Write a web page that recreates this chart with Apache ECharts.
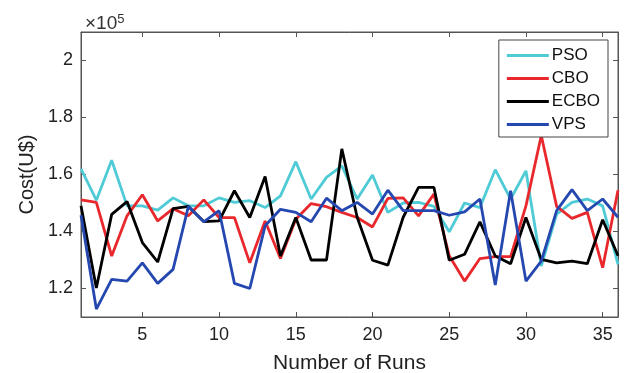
<!DOCTYPE html>
<html>
<head>
<meta charset="utf-8">
<script src="https://cdn.jsdelivr.net/npm/echarts@6/dist/echarts.min.js"></script>
<style>
html,body{margin:0;padding:0;background:#fff;}
#chart{width:626px;height:373px;}
</style>
</head>
<body>
<div id="chart"></div>
<script>
// Runs 1..36, costs in units of 1e5 US$
const runs = Array.from({length: 36}, (_, i) => i + 1);
const pso  = [1.62,1.51,1.65,1.49,1.49,1.475,1.518,1.49,1.49,1.518,1.502,1.508,1.484,1.525,1.645,1.514,1.59,1.63,1.514,1.598,1.467,1.50,1.502,1.488,1.399,1.50,1.484,1.617,1.514,1.613,1.279,1.461,1.502,1.514,1.49,1.285];
const cbo  = [1.511,1.502,1.314,1.455,1.529,1.437,1.48,1.455,1.511,1.449,1.449,1.29,1.437,1.305,1.443,1.498,1.487,1.467,1.449,1.416,1.516,1.518,1.455,1.531,1.315,1.226,1.305,1.312,1.312,1.49,1.737,1.488,1.446,1.467,1.273,1.545];
const ecbo = [1.49,1.202,1.46,1.505,1.361,1.293,1.48,1.488,1.435,1.437,1.543,1.449,1.593,1.314,1.449,1.30,1.30,1.69,1.45,1.299,1.282,1.45,1.555,1.555,1.299,1.32,1.434,1.314,1.287,1.449,1.302,1.29,1.296,1.287,1.441,1.315];
const vps  = [1.457,1.128,1.232,1.226,1.29,1.218,1.267,1.488,1.434,1.473,1.218,1.20,1.42,1.478,1.467,1.434,1.517,1.473,1.502,1.461,1.545,1.473,1.473,1.473,1.457,1.469,1.514,1.212,1.543,1.226,1.296,1.473,1.547,1.473,1.514,1.45];
const xTicks = [5,10,15,20,25,30,35];
const yTicks = [1.2,1.4,1.6,1.8,2];
const seriesNames = ['PSO','CBO','ECBO','VPS'];
const seriesData = [pso, cbo, ecbo, vps];
const colors = ['#4fcbd6','#e8282c','#000000','#2447b0'];

const chart = echarts.init(document.getElementById('chart'), null, {renderer:'canvas'});
const font = 'Liberation Sans, Arial, sans-serif';
const frame = '#555';
const axisCommonX = {
  type:'value', min:1, max:36,
  axisLine:{show:true, lineStyle:{color:frame, width:1}},
  splitLine:{show:false},
  axisTick:{inside:true, length:5, customValues:xTicks, lineStyle:{color:frame}}
};
const axisCommonY = {
  type:'value', min:1.1, max:2.1,
  axisLine:{show:true, lineStyle:{color:frame, width:1}},
  splitLine:{show:false},
  axisTick:{inside:true, length:5, customValues:yTicks, lineStyle:{color:frame}}
};
const option = {
  animation:false,
  backgroundColor:'#fff',
  textStyle:{fontFamily:font},
  title:{
    text:'×10{sup|5}', left:80, top:8,
    textStyle:{fontFamily:font, fontSize:19, fontWeight:'normal', color:'#333',
      rich:{sup:{fontSize:13, verticalAlign:'top', padding:[0,0,9,0], color:'#333', fontFamily:font}}}
  },
  grid:{left:81, right:8, top:32, bottom:56, show:true, borderColor:frame, borderWidth:1,
    containLabel:false, outerBoundsMode:'none'},
  legend:{
    orient:'vertical', right:18, top:40,
    data:seriesNames,
    icon:'rect', itemWidth:42, itemHeight:3, itemGap:6,
    padding:[7,8,4,8],
    borderColor:'#444', borderWidth:1, backgroundColor:'#fff',
    textStyle:{fontFamily:font, fontSize:17, color:'#111', padding:[0,0,0,-2]}
  },
  xAxis:[
    Object.assign({}, axisCommonX, {
      position:'bottom',
      name:'Number of Runs', nameLocation:'middle', nameGap:36,
      nameTextStyle:{fontFamily:font, fontSize:21, color:'#222'},
      axisLabel:{customValues:xTicks, fontFamily:font, fontSize:18, color:'#222', margin:9}
    }),
    Object.assign({}, axisCommonX, {position:'top', axisLabel:{show:false}})
  ],
  yAxis:[
    Object.assign({}, axisCommonY, {
      position:'left',
      name:'Cost(U$)', nameLocation:'middle', nameGap:43,
      nameTextStyle:{fontFamily:font, fontSize:20, color:'#222'},
      axisLabel:{customValues:yTicks, fontFamily:font, fontSize:18, color:'#222', margin:8,
        formatter:v => String(+(+v).toFixed(1))}
    }),
    Object.assign({}, axisCommonY, {position:'right', axisLabel:{show:false}})
  ],
  series: seriesNames.map((n, i) => ({
    name:n, type:'line', smooth:false, symbol:'none',
    xAxisIndex:0, yAxisIndex:0,
    color:colors[i],
    lineStyle:{width:2.8, color:colors[i]},
    data: runs.map((r, j) => [r, seriesData[i][j]])
  }))
};
chart.setOption(option);
</script>
</body>
</html>
